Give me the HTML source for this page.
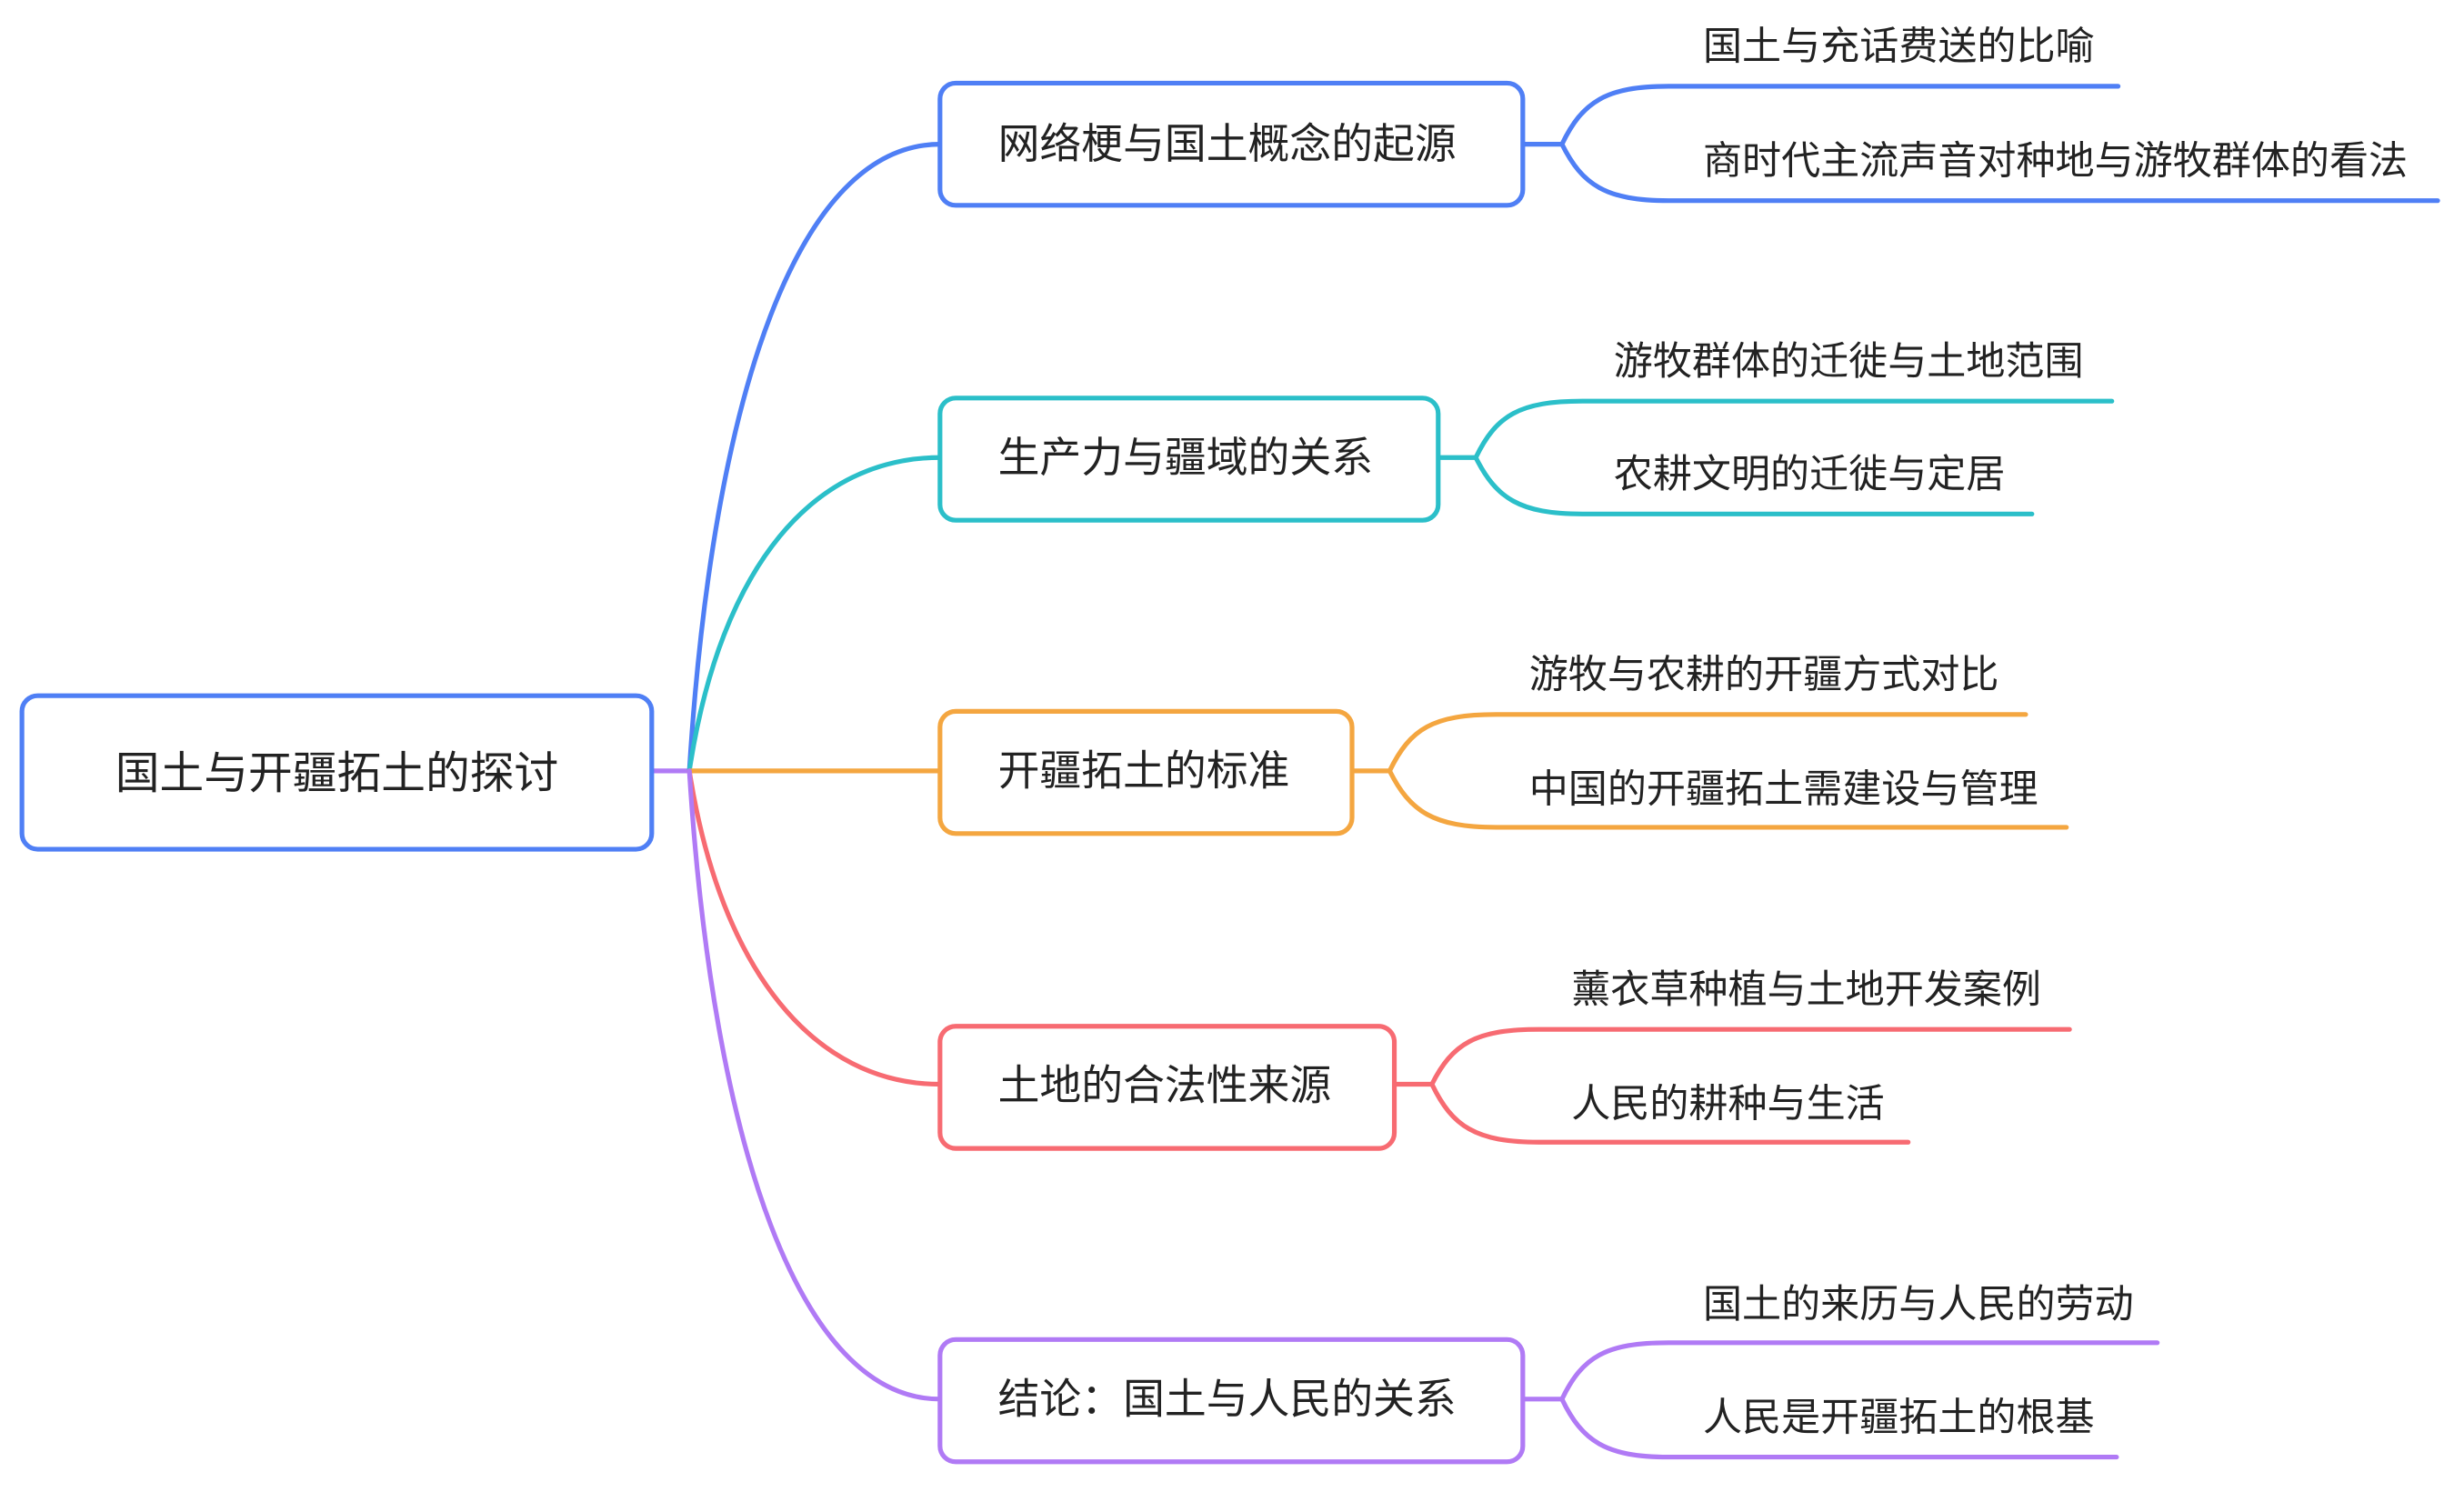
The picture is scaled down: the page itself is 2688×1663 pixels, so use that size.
<!DOCTYPE html>
<html><head><meta charset="utf-8"><style>
html,body{margin:0;padding:0;background:#fff;}
svg{display:block;}
text{font-family:"Liberation Sans","Noto Sans CJK SC",sans-serif;fill:#222;}
</style></head><body>
<svg width="2688" height="1663" viewBox="0 0 1560 965" xmlns="http://www.w3.org/2000/svg">
<g fill="none" stroke-width="3" stroke-linecap="round">
<path d="M416 492 H440" stroke="#b07af5"/>
<path d="M440 492 C455 250,510 92,600 92" stroke="#4f7ff5"/>
<path d="M440 492 C460 360,520 292,600 292" stroke="#2bbfc9"/>
<path d="M440 492 H600" stroke="#f4a640"/>
<path d="M440 492 C460 620,520 692,600 692" stroke="#f76b72"/>
<path d="M440 492 C455 730,510 893,600 893" stroke="#b07af5"/>
<g stroke="#4f7ff5">
<path d="M972 92 H997"/>
<path d="M997 92 C1010 65,1025 55,1065 55 H1352"/>
<path d="M997 92 C1010 118,1025 128,1065 128 H1556"/>
</g>
<g stroke="#2bbfc9">
<path d="M918 292 H942"/>
<path d="M942 292 C955 265,970 256,1010 256 H1348"/>
<path d="M942 292 C955 318,970 328,1010 328 H1297"/>
</g>
<g stroke="#f4a640">
<path d="M863 492 H887"/>
<path d="M887 492 C900 465,915 456,955 456 H1293"/>
<path d="M887 492 C900 518,915 528,955 528 H1319"/>
</g>
<g stroke="#f76b72">
<path d="M890 692 H914"/>
<path d="M914 692 C927 666,942 657,982 657 H1321"/>
<path d="M914 692 C927 719,942 729,982 729 H1218"/>
</g>
<g stroke="#b07af5">
<path d="M972 893 H997"/>
<path d="M997 893 C1010 866,1025 857,1065 857 H1377"/>
<path d="M997 893 C1010 920,1025 930,1065 930 H1351"/>
</g>
<rect x="14" y="444" width="402" height="98" rx="10" fill="#fff" stroke="#4f7ff5"/>
<rect x="600" y="53" width="372" height="78" rx="10" fill="#fff" stroke="#4f7ff5"/>
<rect x="600" y="254" width="318" height="78" rx="10" fill="#fff" stroke="#2bbfc9"/>
<rect x="600" y="454" width="263" height="78" rx="10" fill="#fff" stroke="#f4a640"/>
<rect x="600" y="655" width="290" height="78" rx="10" fill="#fff" stroke="#f76b72"/>
<rect x="600" y="855" width="372" height="78" rx="10" fill="#fff" stroke="#b07af5"/>
</g>
<g font-size="26.6">
<text x="215" y="503" text-anchor="middle" font-size="28.3">国土与开疆拓土的探讨</text>
<text x="637" y="101">网络梗与国土概念的起源</text>
<text x="637" y="301">生产力与疆域的关系</text>
<text x="637" y="501">开疆拓土的标准</text>
<text x="637" y="702">土地的合法性来源</text>
<text x="637" y="902">结论：国土与人民的关系</text>
</g>
<g font-size="25">
<text x="1087" y="38">国土与充话费送的比喻</text>
<text x="1087" y="111">商时代主流声音对种地与游牧群体的看法</text>
<text x="1030" y="239">游牧群体的迁徙与土地范围</text>
<text x="1030" y="311">农耕文明的迁徙与定居</text>
<text x="976" y="439">游牧与农耕的开疆方式对比</text>
<text x="976" y="512">中国的开疆拓土需建设与管理</text>
<text x="1003" y="640">薰衣草种植与土地开发案例</text>
<text x="1003" y="713">人民的耕种与生活</text>
<text x="1087" y="841">国土的来历与人民的劳动</text>
<text x="1087" y="913">人民是开疆拓土的根基</text>
</g>
</svg>
</body></html>
